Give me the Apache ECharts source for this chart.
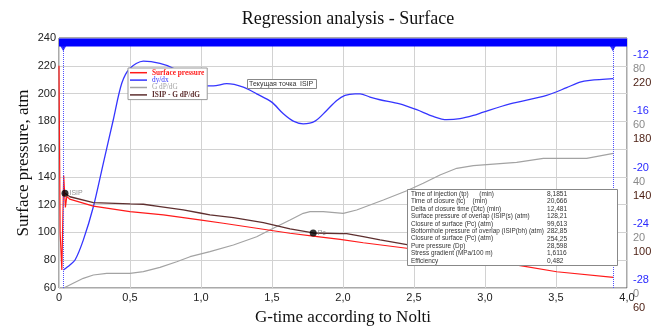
<!DOCTYPE html>
<html>
<head>
<meta charset="utf-8">
<script src="https://cdn.jsdelivr.net/npm/echarts@6/dist/echarts.min.js"></script>
<style>
  html, body { margin: 0; padding: 0; background: #fff; }
  #chart { width: 661px; height: 327px; }
</style>
</head>
<body>
<div id="chart"></div>
<script>
// values, [G-time, value]
const surfacePressure = [
  [0, 220], [0.008, 100], [0.02, 73], [0.033, 141], [0.045, 118], [0.055, 126], [0.075, 124],
  [0.242, 119], [0.5, 115], [0.735, 112.6], [0.99, 109], [1.157, 106.6], [1.392, 103],
  [1.627, 99.4], [1.79, 97.4], [1.98, 95], [2.143, 92.6], [2.449, 88.6], [2.7, 84.8],
  [3.0, 80.2], [3.27, 75.8], [3.505, 71.7], [3.904, 67.7]
];
const dydx = [
  [0.03, -27.79], [0.077, -27.43], [0.113, -27.08], [0.171, -25.66], [0.242, -23.29],
  [0.312, -20.2], [0.382, -17.12], [0.442, -14.51], [0.5, -13.44], [0.594, -12.93],
  [0.711, -13.09], [0.805, -13.44], [0.9, -14.1], [1.016, -14.65], [1.087, -14.7],
  [1.181, -14.54], [1.298, -14.78], [1.392, -15.26], [1.498, -15.85], [1.58, -16.68],
  [1.65, -17.2], [1.72, -17.39], [1.803, -17.2], [1.885, -16.44], [1.956, -15.73],
  [2.014, -15.37], [2.085, -15.26], [2.12, -15.26], [2.19, -15.49], [2.26, -15.68],
  [2.4, -15.97], [2.519, -16.39], [2.636, -16.87], [2.73, -17.1], [2.824, -17.03],
  [2.918, -16.8], [2.988, -16.56], [3.176, -15.97], [3.434, -15.37], [3.575, -14.82],
  [3.669, -14.42], [3.739, -14.3], [3.904, -14.18]
];
const gdpdg = [
  [0.03, 2.03], [0.1, 3.8], [0.171, 5.58], [0.242, 6.76], [0.336, 7.36], [0.5, 7.36],
  [0.594, 7.93], [0.711, 9.49], [0.829, 11.48], [0.923, 13.26], [1.063, 15.04],
  [1.228, 17.42], [1.392, 20.37], [1.509, 23.36], [1.627, 26.31], [1.72, 28.69],
  [1.768, 29.26], [1.861, 29.26], [2.002, 28.69], [2.096, 29.87], [2.284, 33.42],
  [2.449, 36.73], [2.565, 39.36], [2.683, 42.31], [2.801, 44.69], [2.918, 45.62],
  [3.129, 46.47], [3.223, 46.83], [3.411, 48.25], [3.716, 48.25], [3.904, 50.03]
];
const isipLine = [
  [0.042, 128.21], [0.077, 125.7], [0.242, 121.4], [0.5, 120.5], [0.594, 120.3],
  [0.711, 118.6], [0.875, 116.2], [0.993, 114.0], [1.063, 112.6], [1.228, 110.6],
  [1.439, 107], [1.627, 102.5], [1.79, 99.613], [1.979, 99.2], [2.026, 99.2],
  [2.143, 97], [2.261, 94.6], [2.401, 92.2], [2.46, 91]
];
const keyPoints = [[0.042, 128.21], [1.79, 99.613]];
const keyPointNames = ['ISIP', 'Pc'];
const rangeMarks = [0.03, 3.9];

const seriesNames = ['Surface pressure', 'dy/dx', 'G dP/dG', 'ISIP - G dP/dG'];
const blueTicks = [-28, -24, -20, -16, -12];
const greyTicks = [0, 20, 40, 60, 80];
const brownTicks = [60, 100, 140, 180, 220];

const statLabels = [
  'Time of injection (tp)      (min)',
  'Time of closure (tc)    (min)',
  'Delta of closure time (Dtc) (min)',
  'Surface pressure of overlap (ISIP(s) (atm)',
  'Closure of surface (Pc) (atm)',
  'Bottomhole pressure of overlap (ISIP(bh) (atm)',
  'Closure of surface (Pc) (atm)',
  'Pure pressure (Dp)',
  'Stress gradient (MPa/100 m)',
  'Efficiency'
];
const statValues = ['8,1851', '20,666', '12,481', '128,21', '99,613', '282,85', '254,25', '28,598', '1,6116', '0,482'];

const SANS = '"Liberation Sans", Arial, sans-serif';
const SERIF = '"Liberation Serif", "Times New Roman", serif';
const RED = '#ff1a1a';
const BLUE = '#3535ff';
const GREY = '#a3a3a3';
const BROWN = '#5e2f2f';

const chart = echarts.init(document.getElementById('chart'));

const statsTop = 189;
const statsRow = 7.45;
const graphics = [
  { type: 'rect', z: 100, shape: { x: 247.5, y: 79.5, width: 69, height: 9 },
    style: { fill: '#fff', stroke: '#888', lineWidth: 1 } },
  { type: 'text', z: 101, style: { text: 'Текущая точка', x: 249, y: 84.5, fill: '#333',
    font: '7px ' + SANS, verticalAlign: 'middle' } },
  { type: 'text', z: 101, style: { text: 'ISIP', x: 300, y: 84.5, fill: '#333',
    font: '7px ' + SANS, verticalAlign: 'middle' } },
  { type: 'rect', z: 100, shape: { x: 407.5, y: statsTop + 0.5, width: 210, height: 76 },
    style: { fill: '#fff', stroke: '#888', lineWidth: 1 } }
];
statLabels.forEach((label, i) => {
  const y = statsTop + 5 + i * statsRow;
  graphics.push({ type: 'text', z: 101, style: { text: label, x: 411, y, fill: '#333',
    font: '6.4px ' + SANS, verticalAlign: 'middle' } });
  graphics.push({ type: 'text', z: 101, style: { text: statValues[i], x: 547, y, fill: '#333',
    font: '6.6px ' + SANS, verticalAlign: 'middle' } });
});

const option = {
  animation: false,
  title: {
    text: 'Regression analysis - Surface',
    left: 343, top: 5, textAlign: 'center',
    textStyle: { fontFamily: SERIF, fontSize: 18, fontWeight: 'normal', color: '#111' }
  },
  grid: {
    left: 59, right: 34, top: 38, bottom: 39, outerBoundsMode: 'none',
    show: true, borderColor: '#555', borderWidth: 1, backgroundColor: 'transparent'
  },
  legend: {
    orient: 'vertical', left: 128, top: 68, itemGap: 0, itemWidth: 17, itemHeight: 1.5,
    icon: 'rect',
    backgroundColor: '#fff', borderColor: '#999', borderWidth: 1, padding: [1, 3, 1, 2], z: 20,
    textStyle: { fontFamily: SERIF, fontSize: 7.3, lineHeight: 7.4 },
    data: [
      { name: seriesNames[0], textStyle: { color: RED, fontWeight: 'bold' } },
      { name: seriesNames[1], textStyle: { color: BLUE } },
      { name: seriesNames[2], textStyle: { color: GREY } },
      { name: seriesNames[3], textStyle: { color: BROWN, fontWeight: 'bold' } }
    ]
  },
  xAxis: {
    type: 'value', min: 0, max: 4, interval: 0.5,
    name: 'G-time according to Nolti', nameLocation: 'middle', nameGap: 21,
    nameTextStyle: { fontFamily: SERIF, fontSize: 17, color: '#111' },
    axisLine: { show: false }, axisTick: { show: false },
    axisLabel: { margin: 4, color: '#222', fontFamily: SANS, fontSize: 11,
      formatter: v => v === 0 ? '0' : v.toFixed(1).replace('.', ',') },
    splitLine: { lineStyle: { color: '#d2d2d2' } }
  },
  yAxis: [
    {
      type: 'value', min: 60, max: 240, interval: 20,
      name: 'Surface pressure, atm', nameLocation: 'middle', nameGap: 27, nameMoveOverlap: false,
      nameTextStyle: { fontFamily: SERIF, fontSize: 17, color: '#111' },
      axisLine: { show: false }, axisTick: { show: false },
      axisLabel: { margin: 3, color: '#222', fontFamily: SANS, fontSize: 11 },
      splitLine: { lineStyle: { color: '#d2d2d2' } }
    },
    {
      type: 'value', position: 'right', min: -29.067, max: -11.289,
      axisLine: { show: false }, axisTick: { show: false }, splitLine: { show: false },
      axisLabel: {
        customValues: blueTicks, verticalAlign: 'top', margin: 6,
        formatter: v => {
          const i = blueTicks.indexOf(v);
          return '{b|' + v + '}\n{g|' + greyTicks[i] + '}\n{r|' + brownTicks[i] + '}';
        },
        rich: {
          b: { color: '#2a2aff', fontFamily: SANS, fontSize: 11, lineHeight: 14 },
          g: { color: '#8a8a8a', fontFamily: SANS, fontSize: 11, lineHeight: 14 },
          r: { color: '#4a1c10', fontFamily: SANS, fontSize: 11, lineHeight: 14 }
        }
      }
    },
    { type: 'value', show: false, min: 2.133, max: 91.02 }
  ],
  series: [
    {
      name: 'band', type: 'line', yAxisIndex: 0, silent: true, symbol: 'none', z: 6,
      data: [[0, 236.8], [4, 236.8]],
      lineStyle: { color: '#0000ff', width: 8 },
      markLine: {
        symbol: 'none', silent: true, label: { show: false },
        lineStyle: { color: '#5050ff', type: 'dotted', width: 1 },
        data: rangeMarks.map(x => ({ xAxis: x }))
      }
    },
    {
      name: 'marks', type: 'scatter', yAxisIndex: 0, silent: true, z: 7,
      symbol: 'triangle', symbolRotate: 180, symbolSize: [9, 8],
      itemStyle: { color: '#0000ff' },
      data: rangeMarks.map(x => [x, 233.4])
    },
    {
      name: seriesNames[2], type: 'line', yAxisIndex: 2, symbol: 'none',
      lineStyle: { color: GREY, width: 1.2 }, itemStyle: { color: GREY }, data: gdpdg
    },
    {
      name: seriesNames[1], type: 'line', yAxisIndex: 1, symbol: 'none', smooth: 0.3,
      lineStyle: { color: BLUE, width: 1.3 }, itemStyle: { color: BLUE }, data: dydx
    },
    {
      name: seriesNames[3], type: 'line', yAxisIndex: 0, symbol: 'none',
      lineStyle: { color: BROWN, width: 1.3 }, itemStyle: { color: BROWN }, data: isipLine
    },
    {
      name: seriesNames[0], type: 'line', yAxisIndex: 0, symbol: 'none',
      lineStyle: { color: RED, width: 1.2 }, itemStyle: { color: RED }, data: surfacePressure
    },
    {
      name: 'points', type: 'scatter', yAxisIndex: 0, silent: true, z: 8,
      symbolSize: 7, itemStyle: { color: '#000' },
      label: { show: true, position: 'right', distance: 1, fontSize: 7, fontFamily: SANS, color: '#777',
        formatter: p => keyPointNames[p.dataIndex] },
      data: keyPoints
    }
  ],
  graphic: graphics
};

chart.setOption(option);
</script>
</body>
</html>
